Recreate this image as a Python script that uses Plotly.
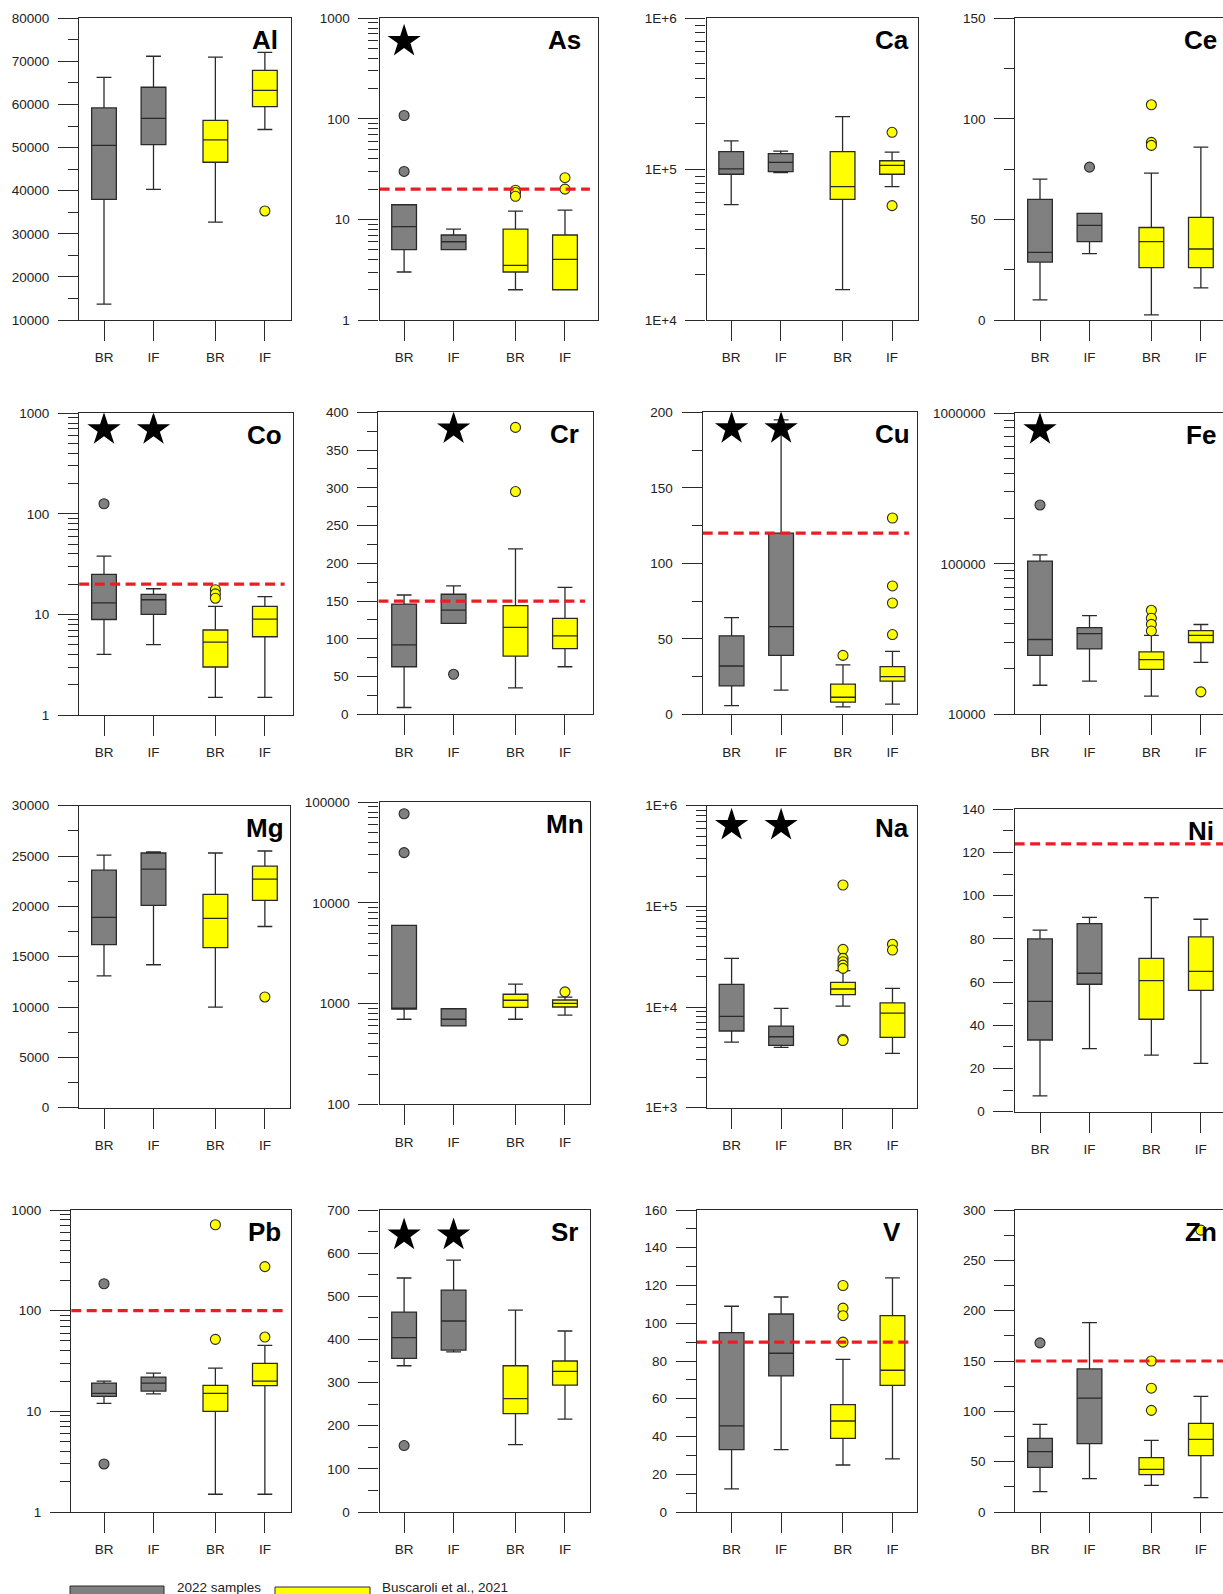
import math
import plotly.graph_objects as go

# ---------------- data ----------------
CATEGORIES = ["BR", "IF", "BR", "IF"]
SERIES = ["2022 samples", "Buscaroli et al., 2021"]
ELEMENTS = ["Al", "As", "Ca", "Ce", "Co", "Cr", "Cu", "Fe",
            "Mg", "Mn", "Na", "Ni", "Pb", "Sr", "V", "Zn"]

AL_LOWER = [13700, 40300, 32700, 54200]
AL_Q1 = [38000, 50700, 46600, 59500]
AL_MEDIAN = [50500, 56800, 51800, 63300]
AL_Q3 = [59200, 64000, 56300, 67900]
AL_UPPER = [66300, 71200, 71000, 72100]
AL_OUTLIERS = [[], [], [], [35300]]

AS_LOWER = [3.0, 5.0, 2.0, 2.0]
AS_Q1 = [5.0, 5.0, 3.0, 2.0]
AS_MEDIAN = [8.5, 6.0, 3.5, 4.0]
AS_Q3 = [14.0, 7.0, 8.0, 7.0]
AS_UPPER = [14.0, 8.0, 12.1, 12.4]
AS_OUTLIERS = [[108, 30], [], [19.5, 18.5, 17], [26, 20]]

CA_LOWER = [58200, 94800, 15900, 76600]
CA_Q1 = [92500, 96300, 63100, 92500]
CA_MEDIAN = [100300, 110900, 76600, 105900]
CA_Q3 = [130600, 126800, 130600, 113700]
CA_UPPER = [153800, 131800, 222800, 129500]
CA_OUTLIERS = [[], [], [], [175500, 57300]]

CE_LOWER = [10, 33, 2.5, 16]
CE_Q1 = [28.8, 39, 26, 26]
CE_MEDIAN = [33.6, 47, 39, 35.3]
CE_Q3 = [60, 53, 46, 51]
CE_UPPER = [70, 53, 73, 86]
CE_OUTLIERS = [[], [76], [107, 88.3, 86.8], []]

CO_LOWER = [4.0, 5.0, 1.5, 1.5]
CO_Q1 = [8.9, 10, 3.0, 6.0]
CO_MEDIAN = [13, 14, 5.3, 9]
CO_Q3 = [25, 15.8, 7, 12]
CO_UPPER = [38, 18, 12, 15]
CO_OUTLIERS = [[126], [], [17.6, 16, 14.5], []]

CR_LOWER = [9, 120.5, 35, 63]
CR_Q1 = [63, 120.5, 77, 87]
CR_MEDIAN = [92, 138, 115, 104]
CR_Q3 = [146, 159, 144, 127]
CR_UPPER = [158, 170, 219, 168]
CR_OUTLIERS = [[], [53], [380, 295], []]

CU_LOWER = [5.7, 16, 4.9, 6.8]
CU_Q1 = [18.8, 39, 8, 22]
CU_MEDIAN = [32, 58, 11.3, 25]
CU_Q3 = [52, 120, 20, 31.6]
CU_UPPER = [64, 195, 32.7, 41.7]
CU_OUTLIERS = [[], [], [39], [130, 85, 73.7, 52.8]]

FE_LOWER = [15600, 16600, 13200, 22100]
FE_Q1 = [24600, 27200, 19900, 30000]
FE_MEDIAN = [31400, 34400, 23100, 33500]
FE_Q3 = [104200, 37700, 26000, 36000]
FE_UPPER = [114800, 45300, 33500, 39500]
FE_OUTLIERS = [[246000], [], [49100, 43500, 39600, 35800], [14100]]

MG_LOWER = [13100, 14200, 10000, 18000]
MG_Q1 = [16200, 20100, 15900, 20600]
MG_MEDIAN = [18900, 23700, 18800, 22700]
MG_Q3 = [23600, 25300, 21200, 24000]
MG_UPPER = [25100, 25400, 25300, 25500]
MG_OUTLIERS = [[], [], [], [11000]]

MN_LOWER = [700, 600, 700, 770]
MN_Q1 = [880, 600, 920, 926]
MN_MEDIAN = [886, 700, 1080, 1007]
MN_Q3 = [6000, 890, 1240, 1087]
MN_UPPER = [6000, 890, 1560, 1160]
MN_OUTLIERS = [[77000, 31600], [], [], [1310]]

NA_LOWER = [4490, 3970, 10200, 3470]
NA_Q1 = [5780, 4160, 13300, 5000]
NA_MEDIAN = [8080, 5070, 15100, 8710]
NA_Q3 = [16800, 6470, 17600, 11000]
NA_UPPER = [30400, 9710, 23000, 15300]
NA_OUTLIERS = [[], [], [163000, 37400, 30400, 28200, 26100, 24200, 4780, 4650], [42000, 36800]]

NI_LOWER = [7.3, 29.2, 26.2, 22.4]
NI_Q1 = [33.2, 59, 42.8, 56.2]
NI_MEDIAN = [51.1, 64.1, 60.7, 65]
NI_Q3 = [80, 87.1, 71, 80.9]
NI_UPPER = [84.1, 90, 99.1, 89.1]
NI_OUTLIERS = [[], [], [], []]

PB_LOWER = [12, 14.9, 1.5, 1.5]
PB_Q1 = [14.1, 15.9, 10, 18]
PB_MEDIAN = [15.1, 19.1, 15.1, 20]
PB_Q3 = [19.1, 21.9, 18.1, 30]
PB_UPPER = [20, 24, 26.9, 45.3]
PB_OUTLIERS = [[185, 3.0], [], [714, 51.9], [274, 54.7]]

SR_LOWER = [339, 371, 156, 215.5]
SR_Q1 = [356, 375.4, 227.8, 294.3]
SR_MEDIAN = [404, 442.7, 262.6, 326]
SR_Q3 = [463.5, 514.5, 339, 350]
SR_UPPER = [542.4, 584, 468, 419.5]
SR_OUTLIERS = [[154], [], [], []]

V_LOWER = [12.2, 33, 24.9, 28.1]
V_Q1 = [33, 72.1, 39, 67.1]
V_MEDIAN = [45.6, 84.1, 48.2, 75.1]
V_Q3 = [95, 104.9, 56.9, 104]
V_UPPER = [109, 113.9, 80.9, 124]
V_OUTLIERS = [[], [], [120, 108, 104, 90], []]

ZN_LOWER = [20.2, 33.1, 26.5, 14.2]
ZN_Q1 = [44.4, 67.9, 37.1, 56]
ZN_MEDIAN = [59.9, 113.2, 42.4, 72.2]
ZN_Q3 = [73.2, 142.1, 54, 88.1]
ZN_UPPER = [87.1, 188.1, 71.2, 114.9]
ZN_OUTLIERS = [[168], [], [150, 123, 101], [280]]

THRESHOLD_ELEMENTS = ["As", "Co", "Cr", "Cu", "Ni", "Pb", "V", "Zn"]
THRESHOLD_VALUES = [20, 20, 150, 120, 124, 100, 90, 150]

STAR_ELEMENTS = ["As", "Co", "Cr", "Cu", "Fe", "Na", "Sr"]
STAR_GROUPS = [[0], [0, 1], [1], [0, 1], [0], [0, 1], [0, 1]]

PLAIN_LOG_TICKS_1 = ["1", "10", "100", "1000"]
CA_TICKS = ["1E+4", "1E+5", "1E+6"]
FE_TICKS = ["10000", "100000", "1000000"]
MN_TICKS = ["100", "1000", "10000", "100000"]
NA_TICKS = ["1E+3", "1E+4", "1E+5", "1E+6"]

BOXES = {
    "Al": (AL_LOWER, AL_Q1, AL_MEDIAN, AL_Q3, AL_UPPER, AL_OUTLIERS),
    "As": (AS_LOWER, AS_Q1, AS_MEDIAN, AS_Q3, AS_UPPER, AS_OUTLIERS),
    "Ca": (CA_LOWER, CA_Q1, CA_MEDIAN, CA_Q3, CA_UPPER, CA_OUTLIERS),
    "Ce": (CE_LOWER, CE_Q1, CE_MEDIAN, CE_Q3, CE_UPPER, CE_OUTLIERS),
    "Co": (CO_LOWER, CO_Q1, CO_MEDIAN, CO_Q3, CO_UPPER, CO_OUTLIERS),
    "Cr": (CR_LOWER, CR_Q1, CR_MEDIAN, CR_Q3, CR_UPPER, CR_OUTLIERS),
    "Cu": (CU_LOWER, CU_Q1, CU_MEDIAN, CU_Q3, CU_UPPER, CU_OUTLIERS),
    "Fe": (FE_LOWER, FE_Q1, FE_MEDIAN, FE_Q3, FE_UPPER, FE_OUTLIERS),
    "Mg": (MG_LOWER, MG_Q1, MG_MEDIAN, MG_Q3, MG_UPPER, MG_OUTLIERS),
    "Mn": (MN_LOWER, MN_Q1, MN_MEDIAN, MN_Q3, MN_UPPER, MN_OUTLIERS),
    "Na": (NA_LOWER, NA_Q1, NA_MEDIAN, NA_Q3, NA_UPPER, NA_OUTLIERS),
    "Ni": (NI_LOWER, NI_Q1, NI_MEDIAN, NI_Q3, NI_UPPER, NI_OUTLIERS),
    "Pb": (PB_LOWER, PB_Q1, PB_MEDIAN, PB_Q3, PB_UPPER, PB_OUTLIERS),
    "Sr": (SR_LOWER, SR_Q1, SR_MEDIAN, SR_Q3, SR_UPPER, SR_OUTLIERS),
    "V": (V_LOWER, V_Q1, V_MEDIAN, V_Q3, V_UPPER, V_OUTLIERS),
    "Zn": (ZN_LOWER, ZN_Q1, ZN_MEDIAN, ZN_Q3, ZN_UPPER, ZN_OUTLIERS),
}

# y axis specs: ("lin", lo, hi, major, minor) or ("log", lo, hi, ticktext)
YSPEC = {
    "Al": ("lin", 10000, 80000, 10000, 5000),
    "As": ("log", 1, 1000, PLAIN_LOG_TICKS_1),
    "Ca": ("log", 1e4, 1e6, CA_TICKS),
    "Ce": ("lin", 0, 150, 50, 25),
    "Co": ("log", 1, 1000, PLAIN_LOG_TICKS_1),
    "Cr": ("lin", 0, 400, 50, 25),
    "Cu": ("lin", 0, 200, 50, 25),
    "Fe": ("log", 1e4, 1e6, FE_TICKS),
    "Mg": ("lin", 0, 30000, 5000, 2500),
    "Mn": ("log", 100, 1e5, MN_TICKS),
    "Na": ("log", 1e3, 1e6, NA_TICKS),
    "Ni": ("lin", 0, 140, 20, 10),
    "Pb": ("log", 1, 1000, PLAIN_LOG_TICKS_1),
    "Sr": ("lin", 0, 700, 100, 50),
    "V": ("lin", 0, 160, 20, 10),
    "Zn": ("lin", 0, 300, 50, 25),
}

# ---------------- layout constants (pixels) ----------------
W, H = 1223, 1594
UNIT = 49.5
POSITIONS = [1.0, 2.0, 3.25, 4.25]
DARK = "#2a2a2a"
GRAY = "#808080"
YELLOW = "#ffff00"
RED = "#ec1c24"
FILLS = [GRAY, GRAY, YELLOW, YELLOW]
FONT = "Liberation Sans, Arial, sans-serif"

# left frame, BR tick, right frame, top, bottom
FRAMES = {
    "Al": (79.1, 104.0, 290.6, 18.3, 320.0),
    "As": (379.6, 404.1, 597.9, 18.3, 320.0),
    "Ca": (706.6, 731.2, 917.7, 18.3, 320.0),
    "Ce": (1015.4, 1040.0, 1227.0, 18.3, 320.0),
    "Co": (79.1, 104.0, 292.6, 413.3, 715.0),
    "Cr": (378.4, 404.1, 593.1, 412.3, 714.3),
    "Cu": (702.7, 731.6, 916.9, 412.3, 714.3),
    "Fe": (1015.4, 1040.0, 1227.0, 413.3, 714.3),
    "Mg": (79.1, 104.0, 289.8, 805.7, 1107.7),
    "Mn": (379.6, 404.1, 590.0, 802.3, 1104.3),
    "Na": (707.0, 731.6, 916.9, 805.7, 1107.7),
    "Ni": (1014.6, 1040.0, 1227.0, 809.3, 1111.7),
    "Pb": (71.2, 104.0, 290.6, 1210.0, 1512.0),
    "Sr": (379.6, 404.1, 590.0, 1210.0, 1512.0),
    "V": (696.8, 731.6, 916.9, 1210.0, 1512.0),
    "Zn": (1015.4, 1040.0, 1227.0, 1210.0, 1512.0),
}
STAR_DY = {"As": 24.7, "Co": 18.0, "Cr": 18.3, "Cu": 18.0, "Fe": 18.0, "Na": 21.3, "Sr": 26.7}
LABEL_DY = 22.0

fig = go.Figure()
layout = dict(
    width=W, height=H, margin=dict(l=0, r=0, t=0, b=0, pad=0, autoexpand=False),
    paper_bgcolor="white", plot_bgcolor="white", showlegend=False,
    font=dict(family=FONT, color="#222"),
)
annotations = []
shapes = []

for i, el in enumerate(ELEMENTS):
    n = i + 1
    sfx = "" if n == 1 else str(n)
    xa, ya = "x" + sfx, "y" + sfx
    left, br, right, top, bottom = FRAMES[el]
    right_vis = min(right, W)
    edge = right > W
    xr = [1 - (br - left) / UNIT, 1 + (right_vis - br) / UNIT]
    ph = bottom - top

    layout["xaxis" + sfx] = dict(
        domain=[left / W, right_vis / W], range=xr, anchor=ya,
        tickmode="array", tickvals=POSITIONS, ticktext=CATEGORIES,
        ticks="outside", ticklen=20, tickwidth=1.2, tickcolor=DARK,
        showline=True, linecolor=DARK, linewidth=1.3, mirror=True,
        showgrid=False, zeroline=False, fixedrange=True,
        tickfont=dict(family=FONT, size=13.5, color="#222"), ticklabelstandoff=5,
    )
    spec = YSPEC[el]
    yax = dict(
        domain=[1 - bottom / H, 1 - top / H], anchor=xa,
        ticks="outside", ticklen=20, tickwidth=1.2, tickcolor=DARK,
        showline=True, linecolor=DARK, linewidth=1.3, mirror=not edge,
        showgrid=False, zeroline=False, fixedrange=True,
        tickfont=dict(family=FONT, size=13.5, color="#222"), ticklabelstandoff=6,
    )
    if spec[0] == "lin":
        _, lo, hi, major, minor = spec
        yax.update(type="linear", range=[lo, hi], tickmode="linear", tick0=lo,
                   dtick=major, tickformat="d",
                   minor=dict(tickmode="linear", tick0=lo, dtick=minor, ticks="outside",
                              ticklen=10, tickwidth=1.1, tickcolor=DARK, showgrid=False))
        def yfrac(f, lo=lo, hi=hi):
            return lo + f * (hi - lo)
    else:
        _, lo, hi, labels = spec
        llo, lhi = round(math.log10(lo)), round(math.log10(hi))
        decades = list(range(llo, lhi + 1))
        vals = [10 ** d for d in decades]
        minor_vals = [k * 10 ** d for d in decades[:-1] for k in range(2, 10)]
        yax.update(type="log", range=[llo, lhi], tickmode="array", tickvals=vals,
                   ticktext=labels,
                   minor=dict(tickmode="array", tickvals=minor_vals, ticks="outside",
                              ticklen=10, tickwidth=1.1, tickcolor=DARK, showgrid=False))
        def yfrac(f, llo=llo, lhi=lhi):
            return 10 ** (llo + f * (lhi - llo))
    layout["yaxis" + sfx] = yax

    lower, q1, med, q3, upper, outl = BOXES[el]
    for g in range(4):
        fig.add_trace(go.Box(
            x=[POSITIONS[g]], q1=[q1[g]], median=[med[g]], q3=[q3[g]],
            lowerfence=[lower[g]], upperfence=[upper[g]],
            width=0.5, whiskerwidth=0.6, fillcolor=FILLS[g],
            line=dict(color=DARK, width=1.3), boxpoints=False,
            xaxis=xa, yaxis=ya, showlegend=False, hoverinfo="skip",
        ))
    for g in range(4):
        if outl[g]:
            fig.add_trace(go.Scatter(
                x=[POSITIONS[g]] * len(outl[g]), y=outl[g], mode="markers",
                marker=dict(size=10, color=FILLS[g], line=dict(color=DARK, width=1.1)),
                xaxis=xa, yaxis=ya, showlegend=False, hoverinfo="skip",
            ))

    if el in THRESHOLD_ELEMENTS:
        t = THRESHOLD_VALUES[THRESHOLD_ELEMENTS.index(el)]
        xend = xr[1] if edge else xr[1] - 8 / UNIT
        fig.add_trace(go.Scatter(
            x=[xr[0], xend], y=[t, t], mode="lines",
            line=dict(color=RED, width=3.2, dash="10px,5.5px"),
            xaxis=xa, yaxis=ya, showlegend=False, hoverinfo="skip",
        ))

    if el in STAR_ELEMENTS:
        groups = STAR_GROUPS[STAR_ELEMENTS.index(el)]
        f = 1 - (STAR_DY[el] - 1.7) / ph
        fig.add_trace(go.Scatter(
            x=[POSITIONS[g] for g in groups], y=[yfrac(f)] * len(groups),
            mode="markers", marker=dict(symbol="star", size=25, color="black",
                                        line=dict(width=0)),
            xaxis=xa, yaxis=ya, showlegend=False, hoverinfo="skip",
        ))

    annotations.append(dict(
        text="<b>%s</b>" % el, x=POSITIONS[3], xref=xa,
        y=1 - LABEL_DY / ph, yref=ya + " domain",
        xanchor="center", yanchor="middle", showarrow=False,
        font=dict(family=FONT, size=26, color="black"),
    ))

# legend at the bottom
shapes.append(dict(type="rect", xref="paper", yref="paper",
                   x0=70 / W, x1=164 / W, y0=-0.01, y1=1 - 1586.0 / H,
                   fillcolor=GRAY, line=dict(color=DARK, width=1)))
shapes.append(dict(type="rect", xref="paper", yref="paper",
                   x0=275 / W, x1=370 / W, y0=-0.01, y1=1 - 1587.0 / H,
                   fillcolor=YELLOW, line=dict(color=DARK, width=1)))
annotations.append(dict(text=SERIES[0], xref="paper", yref="paper",
                        x=175 / W, y=1 - 1587.5 / H, xanchor="left", yanchor="middle",
                        showarrow=False, font=dict(family=FONT, size=13.5, color="#222")))
annotations.append(dict(text=SERIES[1], xref="paper", yref="paper",
                        x=379.6 / W, y=1 - 1587.5 / H, xanchor="left", yanchor="middle",
                        showarrow=False, font=dict(family=FONT, size=13.5, color="#222")))

layout["annotations"] = annotations
layout["shapes"] = shapes
fig.update_layout(**layout)

PAGE_FIX = (
    "var s=document.createElement('style');"
    "s.innerHTML='html,body{margin:0 !important;padding:0 !important;overflow:hidden !important;}';"
    "document.head.appendChild(s);"
)
fig.write_html("out.html", config={"displayModeBar": False}, post_script=PAGE_FIX)
